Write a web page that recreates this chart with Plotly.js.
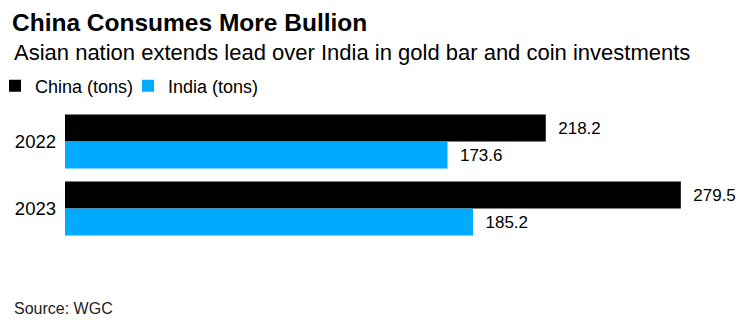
<!DOCTYPE html>
<html>
<head>
<meta charset="utf-8">
<script src="https://cdn.plot.ly/plotly-3.0.1.min.js"></script>
<style>
  html, body { margin: 0; padding: 0; background: #fff; }
  #chart { width: 753px; height: 327px; }
</style>
</head>
<body>
<div id="chart"></div>
<script>
// Gold bar and coin investment, tons
const years = ['2022', '2023'];
const china = [218.2, 279.5];
const india = [173.6, 185.2];
const seriesNames = ['China (tons)', 'India (tons)'];

const W = 753, H = 327;
const M = { l: 65, r: 27, t: 108, b: 85, autoexpand: false };
const plotW = W - M.l - M.r, plotH = H - M.t - M.b;
// convert page pixels to paper fractions for annotations and legend
const px = x => (x - M.l) / plotW;
const py = y => 1 - (y - M.t) / plotH;

const FONT = 'Liberation Sans, Arial, Helvetica, sans-serif';
const labelTpl = '\u00a0\u00a0%{x:.1f}';

const traces = [
  {
    type: 'bar', orientation: 'h', name: seriesNames[0],
    y: years, x: china,
    marker: { color: '#000000' },
    texttemplate: labelTpl, textposition: 'outside',
    textfont: { family: FONT, size: 17, color: '#000' },
    constraintext: 'none', cliponaxis: false, hoverinfo: 'x+name'
  },
  {
    type: 'bar', orientation: 'h', name: seriesNames[1],
    y: years, x: india,
    marker: { color: '#00aaff' },
    texttemplate: labelTpl, textposition: 'outside',
    textfont: { family: FONT, size: 17, color: '#000' },
    constraintext: 'none', cliponaxis: false, hoverinfo: 'x+name'
  }
];

const layout = {
  width: W, height: H,
  margin: M,
  paper_bgcolor: '#fff', plot_bgcolor: '#fff',
  font: { family: FONT, size: 17, color: '#000' },
  barmode: 'group', bargap: 0.194, bargroupgap: 0,
  showlegend: true,
  legend: {
    orientation: 'h', xref: 'paper', yref: 'paper',
    x: px(-5), xanchor: 'left', y: py(86), yanchor: 'middle',
    font: { family: FONT, size: 18, color: '#000' },
    itemwidth: 30, entrywidth: 88, entrywidthmode: 'pixels',
    traceorder: 'normal', bgcolor: 'rgba(0,0,0,0)', borderwidth: 0
  },
  title: {
    text: 'China Consumes More Bullion',
    font: { family: FONT, size: 24.5, color: '#000', weight: 'bold' },
    xref: 'container', yref: 'container',
    x: 12 / W, xanchor: 'left', y: 1 - 22 / H, yanchor: 'middle'
  },
  xaxis: {
    range: [0, 300], showgrid: false, zeroline: false,
    showticklabels: false, ticks: '', showline: false, fixedrange: true
  },
  yaxis: {
    type: 'category', autorange: 'reversed', showgrid: false, zeroline: false,
    showline: false, ticks: '', ticklabelstandoff: 8,
    tickfont: { family: FONT, size: 18.5, color: '#000' }, fixedrange: true
  },
  annotations: [
    {
      text: 'Asian nation extends lead over India in gold bar and coin investments',
      xref: 'paper', yref: 'paper', x: px(12), y: py(52),
      xanchor: 'left', yanchor: 'middle', showarrow: false,
      font: { family: FONT, size: 22, color: '#000' }
    },
    {
      text: 'Source: WGC',
      xref: 'paper', yref: 'paper', x: px(12), y: py(308),
      xanchor: 'left', yanchor: 'middle', showarrow: false,
      font: { family: FONT, size: 16, color: '#222' }
    }
  ]
};

Plotly.newPlot('chart', traces, layout, { displayModeBar: false, staticPlot: true });
</script>
</body>
</html>
